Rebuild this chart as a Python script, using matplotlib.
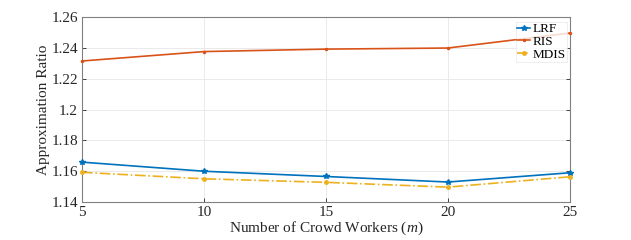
import matplotlib
matplotlib.use("Agg")
import matplotlib.pyplot as plt

m = [5, 10, 15, 20, 25]
lrf = [1.1659, 1.1600, 1.1566, 1.1530, 1.1590]
ris = [1.2315, 1.2376, 1.2392, 1.2399, 1.2496]
mdis = [1.1593, 1.1551, 1.1528, 1.1497, 1.1564]
yticks = [1.14, 1.16, 1.18, 1.2, 1.22, 1.24, 1.26]
yticklabels = ["1.14", "1.16", "1.18", "1.2", "1.22", "1.24", "1.26"]

plt.rcParams['font.family'] = ['Liberation Serif', 'DejaVu Serif']
plt.rcParams['mathtext.fontset'] = 'custom'
plt.rcParams['mathtext.it'] = 'Liberation Serif:italic'
plt.rcParams['mathtext.rm'] = 'Liberation Serif'

fig = plt.figure(figsize=(6.31, 2.4), dpi=100)
ax = fig.add_axes([0.13, 0.158, 0.773, 0.771])

ax.plot(m, lrf, color='#0072BD', marker='*', markersize=4, lw=1.2, label='LRF', clip_on=False, zorder=3)
ax.plot(m, ris, color='#D95319', marker='.', markersize=3, lw=1.2, label='RIS', clip_on=False, zorder=3)
ax.plot(m, mdis, color='#EDB120', marker='o', markersize=2.5, lw=1.2, ls='-.', label='MDIS', clip_on=False, zorder=3)

ax.set_xlim(5, 25)
ax.set_ylim(1.14, 1.26)
ax.set_xticks(m)
ax.set_yticks(yticks)
ax.set_yticklabels(yticklabels)
ax.grid(True, color='#e6e6e6', lw=0.6)
ax.set_axisbelow(True)
ax.tick_params(direction='in', length=3, top=False, right=True, labelsize=11, colors='#262626', width=0.6, pad=3)
for s in ax.spines.values():
    s.set_color('#808080')
    s.set_linewidth(0.8)
ax.set_xlabel('Number of Crowd Workers ($m$)', fontsize=11, color='#262626', labelpad=0)
ax.set_ylabel('Approximation Ratio', fontsize=11, color='#262626', labelpad=1)
leg = ax.legend(loc='upper right', bbox_to_anchor=(0.994, 0.975), fontsize=9.5, frameon=True, fancybox=False,
                edgecolor='#e6e6e6', handlelength=1.0, handletextpad=0.15, borderpad=0.1, labelspacing=0.05,
                borderaxespad=0)
leg.get_frame().set_linewidth(0.6)
leg.set_zorder(5)

fig.savefig('out.png', dpi=100)
